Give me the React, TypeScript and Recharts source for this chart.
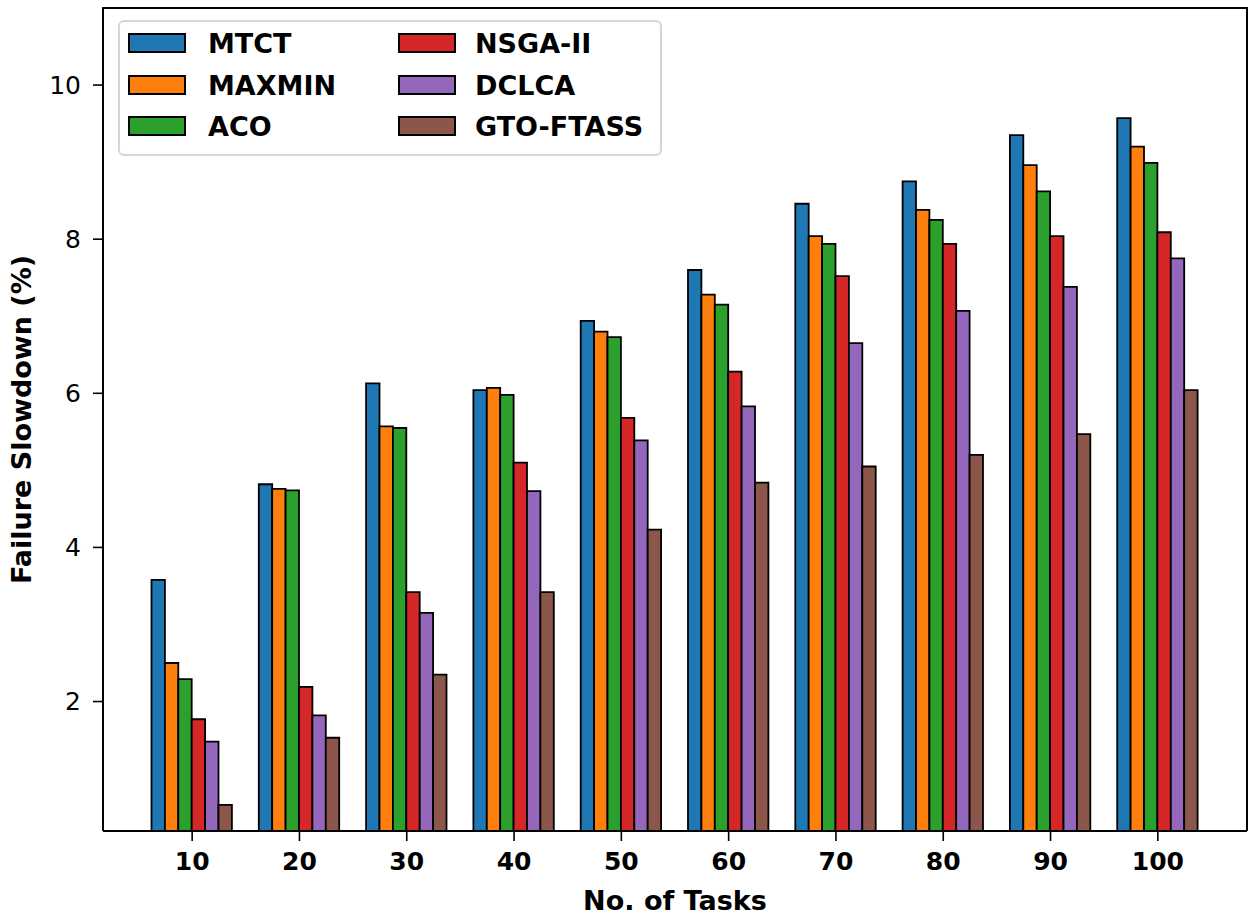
import React from "react";
import {
  BarChart,
  Bar,
  XAxis,
  YAxis,
  Legend,
  Label,
} from "recharts";

const tasks = ["10", "20", "30", "40", "50", "60", "70", "80", "90", "100"];

const mtct = [3.58, 4.82, 6.13, 6.04, 6.94, 7.6, 8.46, 8.75, 9.35, 9.57];
const maxmin = [2.5, 4.76, 5.57, 6.07, 6.8, 7.28, 8.04, 8.38, 8.96, 9.2];
const aco = [2.29, 4.74, 5.55, 5.98, 6.73, 7.15, 7.94, 8.25, 8.62, 8.99];
const nsga = [1.77, 2.19, 3.42, 5.1, 5.68, 6.28, 7.52, 7.94, 8.04, 8.09];
const dclca = [1.48, 1.82, 3.15, 4.73, 5.39, 5.83, 6.65, 7.07, 7.38, 7.75];
const gto = [0.66, 1.53, 2.35, 3.42, 4.23, 4.84, 5.05, 5.2, 5.47, 6.04];

const yTicks = [2, 4, 6, 8, 10];
const yMin = 0.32;
const yMax = 11;

const series = [
  { key: "MTCT", values: mtct, color: "#1f77b4" },
  { key: "MAXMIN", values: maxmin, color: "#ff7f0e" },
  { key: "ACO", values: aco, color: "#2ca02c" },
  { key: "NSGA-II", values: nsga, color: "#d62728" },
  { key: "DCLCA", values: dclca, color: "#9467bd" },
  { key: "GTO-FTASS", values: gto, color: "#8c564b" },
];

const data = tasks.map((t, i) => {
  const row: Record<string, any> = { task: t };
  series.forEach((s) => (row[s.key] = s.values[i]));
  return row;
});

const FONT = "DejaVu Sans";

function LegendBox(props: any) {
  const order = series.map((s) => s.key);
  const items = [...(props.payload || [])].sort(
    (a: any, b: any) => order.indexOf(a.value) - order.indexOf(b.value)
  );
  return (
    <div
      style={{
        position: "relative",
        width: 544,
        height: 136,
        boxSizing: "border-box",
        border: "2px solid #d6d6d6",
        borderRadius: 6,
        background: "rgba(255,255,255,0.85)",
        fontFamily: FONT,
      }}
    >
      {items.map((it: any, i: number) => {
        const col = Math.floor(i / 3);
        const row = i % 3;
        const cy = 22 + row * 41.5;
        const px = col === 0 ? 8 : 278;
        const tx = col === 0 ? 88 : 355;
        return (
          <React.Fragment key={it.value}>
            <div
              style={{
                position: "absolute",
                left: px,
                top: cy - 11,
                width: 58,
                height: 20,
                background: it.color,
                border: "2px solid #000",
                boxSizing: "border-box",
              }}
            />
            <div
              style={{
                position: "absolute",
                left: tx,
                top: cy - 16,
                lineHeight: "32px",
                fontSize: 27,
                fontWeight: "bold",
                color: "#000",
                whiteSpace: "nowrap",
              }}
            >
              {it.value}
            </div>
          </React.Fragment>
        );
      })}
    </div>
  );
}

function YTitle(props: any) {
  const vb = props.viewBox || {};
  const x = 21;
  const y = vb.y + vb.height / 2;
  return (
    <text
      x={x}
      y={y}
      transform={`rotate(-90, ${x}, ${y})`}
      textAnchor="middle"
      dominantBaseline="central"
      fontFamily={FONT}
      fontWeight="bold"
      fontSize={27}
      fill="#000"
    >
      Failure Slowdown (%)
    </text>
  );
}

function XTitle(props: any) {
  const vb = props.viewBox || {};
  const x = vb.x + vb.width / 2;
  const y = 900;
  return (
    <text
      x={x}
      y={y}
      textAnchor="middle"
      dominantBaseline="central"
      fontFamily={FONT}
      fontWeight="bold"
      fontSize={27}
      fill="#000"
    >
      No. of Tasks
    </text>
  );
}

export default function App() {
  return (
    <div style={{ position: "absolute", left: 0, top: 0, background: "#fff" }}>
      <BarChart
        width={1250}
        height={916}
        data={data}
        margin={{ top: 8, right: 3, left: 0, bottom: 0 }}
        barGap={0}
        barSize={13.4}
        style={{ fontFamily: FONT }}
      >
        <XAxis
          dataKey="task"
          height={85}
          padding={{ left: 35.5, right: 35.5 }}
          tickSize={10}
          tickMargin={11}
          tick={{ fontSize: 25, fontWeight: "bold", fill: "#000", fontFamily: FONT }}
          stroke="#000"
          axisLine={{ stroke: "#000", strokeWidth: 2 }}
          tickLine={{ stroke: "#000", strokeWidth: 1.6 }}
          interval={0}
        >
          <Label content={<XTitle />} />
        </XAxis>
        <YAxis
          width={103}
          domain={[yMin, yMax]}
          allowDataOverflow
          ticks={yTicks}
          tickSize={10}
          tickMargin={12}
          tick={{ fontSize: 25, fill: "#000", fontFamily: FONT }}
          axisLine={{ stroke: "#000", strokeWidth: 2 }}
          tickLine={{ stroke: "#000", strokeWidth: 1.6 }}
        >
          <Label content={<YTitle />} />
        </YAxis>
        <Legend
          verticalAlign="middle"
          align="center"
          layout="horizontal"
          wrapperStyle={{ left: 118, top: 20, width: 544, height: 136 }}
          content={<LegendBox />}
        />
        {series.map((s) => (
          <Bar
            key={s.key}
            dataKey={s.key}
            fill={s.color}
            stroke="#000"
            strokeWidth={1.8}
            isAnimationActive={false}
          />
        ))}
      </BarChart>
      {/* top and right spines */}
      <div
        style={{
          position: "absolute",
          left: 102,
          top: 7,
          width: 1146,
          height: 824,
          boxSizing: "border-box",
          borderTop: "2px solid #000",
          borderRight: "2px solid #000",
          pointerEvents: "none",
        }}
      />
    </div>
  );
}
